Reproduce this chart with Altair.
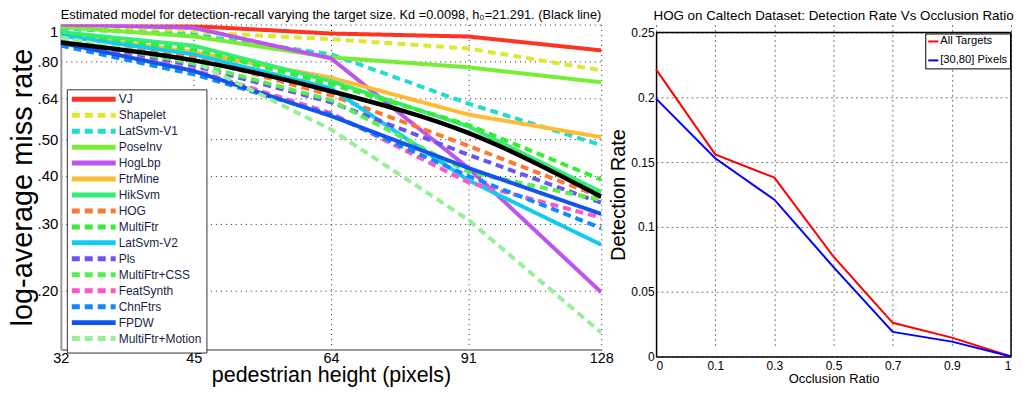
import altair as alt
import pandas as pd

# ---------------- data: left panel ----------------
heights = [32, 45, 64, 91, 128]
methods = ["VJ", "Shapelet", "LatSvm-V1", "PoseInv", "HogLbp", "FtrMine", "HikSvm", "HOG",
           "MultiFtr", "LatSvm-V2", "Pls", "MultiFtr+CSS", "FeatSynth", "ChnFtrs", "FPDW",
           "MultiFtr+Motion"]
miss_vj = [1.0, 0.99, 0.947, 0.93, 0.855]
miss_shapelet = [0.99, 0.955, 0.915, 0.865, 0.758]
miss_latsvm_v1 = [0.975, 0.94, 0.835, 0.62, 0.482]
miss_poseinv = [0.985, 0.93, 0.82, 0.772, 0.705]
miss_hoglbp = [1.0, 0.98, 0.815, 0.42, 0.198]
miss_ftrmine = [0.945, 0.845, 0.725, 0.58, 0.506]
miss_hiksvm = [0.955, 0.88, 0.71, 0.54, 0.363]
miss_hog = [0.93, 0.82, 0.652, 0.48, 0.352]
miss_multiftr = [0.94, 0.86, 0.697, 0.545, 0.391]
miss_latsvm_v2 = [0.935, 0.835, 0.68, 0.39, 0.264]
miss_pls = [0.91, 0.78, 0.625, 0.455, 0.34]
miss_multiftr_css = [0.92, 0.79, 0.633, 0.41, 0.346]
miss_featsynth = [0.90, 0.76, 0.585, 0.385, 0.311]
miss_chnftrs = [0.88, 0.74, 0.58, 0.40, 0.292]
miss_fpdw = [0.895, 0.755, 0.575, 0.42, 0.318]
miss_multiftr_motion = [0.925, 0.80, 0.53, 0.307, 0.155]
miss_model = [0.897, 0.805, 0.668, 0.519, 0.353]

series = [miss_vj, miss_shapelet, miss_latsvm_v1, miss_poseinv, miss_hoglbp, miss_ftrmine,
          miss_hiksvm, miss_hog, miss_multiftr, miss_latsvm_v2, miss_pls, miss_multiftr_css,
          miss_featsynth, miss_chnftrs, miss_fpdw, miss_multiftr_motion]

colors = ["#ff3322", "#dde833", "#22ddcc", "#77ee33", "#bb55ee", "#ffbb33", "#33ee77", "#ff7733",
          "#33ee33", "#11ccee", "#6655ee", "#55ee55", "#ff55cc", "#1188ff", "#1155ee", "#99ee99"]
SOLID = [1, 0]
DASH = [8, 5]
dashes = [SOLID, DASH, DASH, SOLID, SOLID, SOLID, SOLID, DASH,
          DASH, SOLID, DASH, DASH, DASH, DASH, SOLID, DASH]

ytick_vals = [0.2, 0.3, 0.4, 0.5, 0.64, 0.8, 1.0]

# ---------------- data: right panel ----------------
occlusion = ["0", "0.1", "0.3", "0.5", "0.7", "0.9", "1"]
det_all = [0.2215, 0.156, 0.138, 0.077, 0.026, 0.0146, 0.0]
det_small = [0.199, 0.153, 0.121, 0.069, 0.019, 0.0115, 0.0]
right_series = ["All Targets", "[30,80] Pixels"]
right_colors = ["#ff0000", "#0000ff"]

REG = "Liberation Sans, Arial, Helvetica"

# ---------------- left chart ----------------
rows = []
for m, vals in zip(methods, series):
    for h, v in zip(heights, vals):
        rows.append({"method": m, "height": h, "miss": v})
df_left = pd.DataFrame(rows)
df_model = pd.DataFrame({"height": heights, "miss": miss_model})

xl_scale = alt.Scale(type="log", domain=[32, 128], nice=False)
yl_scale = alt.Scale(type="log", domain=[0.14, 1], nice=False)

x_axis_l = alt.Axis(values=heights, title="pedestrian height (pixels)", grid=True,
                    gridDash=[1, 4], gridColor="#222", gridWidth=1, ticks=False,
                    domainColor="#999", domainWidth=2, labelFont=REG, labelFontSize=14.5,
                    labelColor="#000", labelPadding=2, titleFont=REG, titleFontSize=21.5,
                    titleFontWeight="normal", titleColor="#000", titlePadding=0,
                    labelFlush=False)
y_axis_l = alt.Axis(values=ytick_vals, title="log-average miss rate", grid=True,
                    gridDash=[1, 4], gridColor="#222", gridWidth=1, ticks=False,
                    domainColor="#999", domainWidth=2, labelFont=REG, labelFontSize=15,
                    labelColor="#000", labelPadding=3,
                    labelBaseline={"condition": {"test": "datum.value == 1", "value": "top"},
                                   "value": "middle"},
                    labelExpr="datum.value == 1 ? '1' : replace(format(datum.value, '.2f'), '0.', '.')",
                    titleFont=REG, titleFontSize=29, titleFontWeight="normal", titleColor="#000",
                    titlePadding=0)

legend_l = alt.Legend(title=None, orient="none", legendX=6, legendY=65,
                      symbolType="M-2,0H15.6", symbolSize=25, symbolStrokeWidth=5,
                      labelOffset=36, labelFont=REG, labelFontSize=12, labelColor="#1a1f4a",
                      fillColor="white", strokeColor="#333", padding=4, rowPadding=-4.75,
                      labelLimit=300)

lines = alt.Chart(df_left).mark_line(strokeWidth=4, clip=True).encode(
    x=alt.X("height:Q", scale=xl_scale, axis=x_axis_l),
    y=alt.Y("miss:Q", scale=yl_scale, axis=y_axis_l),
    color=alt.Color("method:N", scale=alt.Scale(domain=methods, range=colors), legend=legend_l),
    strokeDash=alt.StrokeDash("method:N", scale=alt.Scale(domain=methods, range=dashes),
                              legend=legend_l),
    order=alt.Order("height:Q"),
)
model_line = alt.Chart(df_model).mark_line(color="black", strokeWidth=4.5, clip=True,
                                           interpolate="monotone").encode(
    x=alt.X("height:Q", scale=xl_scale),
    y=alt.Y("miss:Q", scale=yl_scale),
)

left = alt.layer(lines, model_line).properties(
    width=542, height=326,
    title=alt.Title("Estimated model for detection-recall varying the target size. Kd =0.0098, h\u2080=21.291. (Black line)",
                    font=REG, fontSize=12.8, fontWeight="normal", color="#000", offset=2.5,
                    frame="group"),
)

# ---------------- right chart ----------------
rrows = []
for name, vals in zip(right_series, [det_all, det_small]):
    for o, v in zip(occlusion, vals):
        rrows.append({"series": name, "occ": o, "rate": v})
df_right = pd.DataFrame(rrows)

xr_scale = alt.Scale(type="point", domain=occlusion, padding=0)
yr_scale = alt.Scale(domain=[0, 0.25], range=[333, 8], nice=False, zero=False)

x_axis_r = alt.Axis(title="Occlusion Ratio", labelAngle=0, grid=True, gridDash=[2, 3],
                    gridColor="#777", gridWidth=1, ticks=False, domainColor="#000",
                    domainWidth=1.5, labelFont=REG, labelFontSize=12, labelColor="#000",
                    labelPadding=4, titleFont=REG, titleFontSize=13, titleFontWeight="normal",
                    titleColor="#000", titlePadding=1, labelFlush=True)
y_axis_r = alt.Axis(title="Detection Rate", values=[0, 0.05, 0.1, 0.15, 0.2, 0.25], format="~g",
                    grid=True, gridDash=[2, 3], gridColor="#777", gridWidth=1, ticks=False,
                    domainColor="#000", domainWidth=1.5, labelFont=REG, labelFontSize=12,
                    labelColor="#000", labelPadding=2, titleFont=REG, titleFontSize=20,
                    titleFontWeight="normal", titleColor="#000", titlePadding=2)

legend_r = alt.Legend(title=None, orient="none", legendX=270, legendY=9,
                      symbolType="M-1,0H1", symbolSize=100, symbolStrokeWidth=2,
                      labelOffset=1, labelFont=REG, labelFontSize=11.2, labelColor="#000",
                      fillColor="white", strokeColor="#000", padding=2,
                      rowPadding=7)

rlines = alt.Chart(df_right).mark_line(strokeWidth=2).encode(
    x=alt.X("occ:O", scale=xr_scale, axis=x_axis_r, sort=occlusion),
    y=alt.Y("rate:Q", scale=yr_scale, axis=y_axis_r),
    color=alt.Color("series:N", scale=alt.Scale(domain=right_series, range=right_colors),
                    legend=legend_r),
)
frame_df = pd.DataFrame({"k": [0]})
top_rule = alt.Chart(frame_df).mark_rule(color="black", strokeWidth=1.5).encode(
    x=alt.datum(occlusion[0], scale=xr_scale), x2=alt.datum(occlusion[-1]),
    y=alt.datum(0.25, scale=yr_scale),
)
right_rule = alt.Chart(frame_df).mark_rule(color="black", strokeWidth=1.5).encode(
    x=alt.datum(occlusion[-1], scale=xr_scale),
    y=alt.datum(0, scale=yr_scale), y2=alt.datum(0.25),
)

right = alt.layer(rlines, top_rule, right_rule).properties(
    width=356, height=333,
    title=alt.Title("HOG on Caltech Dataset: Detection Rate Vs Occlusion Ratio",
                    font=REG, fontSize=13.4, fontWeight="normal", color="#000", offset=2.5,
                    frame="group"),
)

chart = alt.hconcat(left, right, spacing=55, bounds="flush").resolve_scale(
    color="independent", strokeDash="independent", x="independent", y="independent"
).properties(padding=0, background="white").configure_view(stroke=None)

chart.save("out.html", embed_options={"renderer": "svg", "actions": False})
